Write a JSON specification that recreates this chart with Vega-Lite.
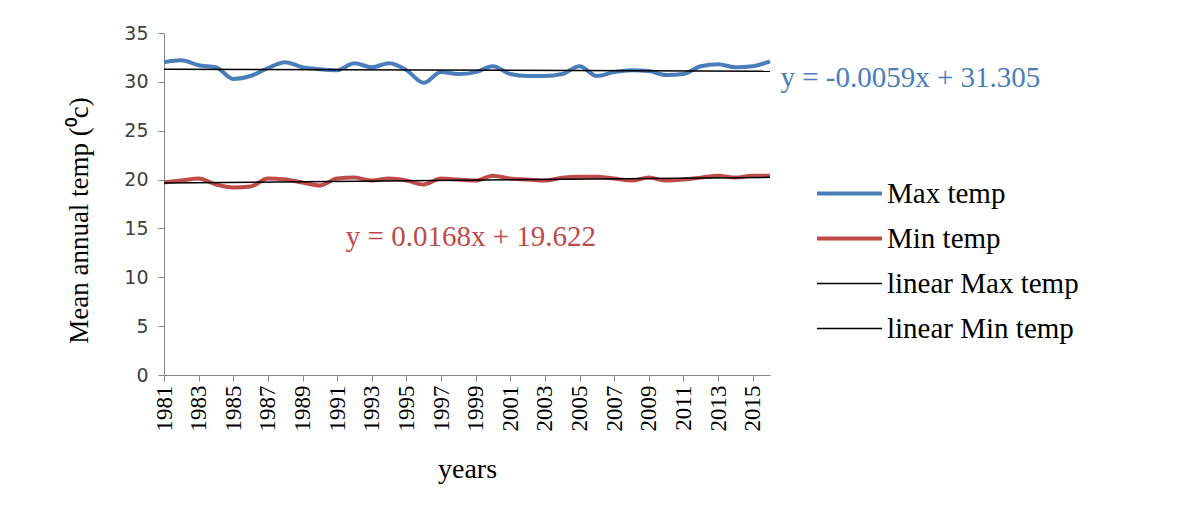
{
  "$schema": "https://vega.github.io/schema/vega-lite/v6.json",
  "width": 606,
  "height": 342,
  "autosize": {"type": "none"},
  "padding": {"left": 164, "top": 33, "right": 407, "bottom": 139},
  "background": "white",
  "config": {
    "view": {"stroke": null},
    "axis": {"grid": false, "domainColor": "#868686", "tickColor": "#868686", "labelColor": "#404040", "titleColor": "#000000", "titleFontWeight": "normal"},
    "legend": {"labelFont": "Liberation Serif", "labelFontSize": 29, "labelColor": "#000000", "labelLimit": 400}
  },
  "datasets": {
    "temps": [
      {"year": 1981, "series": "Max temp", "temp": 32.0},
      {"year": 1982, "series": "Max temp", "temp": 32.2},
      {"year": 1983, "series": "Max temp", "temp": 31.7},
      {"year": 1984, "series": "Max temp", "temp": 31.5},
      {"year": 1985, "series": "Max temp", "temp": 30.3},
      {"year": 1986, "series": "Max temp", "temp": 30.6},
      {"year": 1987, "series": "Max temp", "temp": 31.4},
      {"year": 1988, "series": "Max temp", "temp": 32.0},
      {"year": 1989, "series": "Max temp", "temp": 31.5},
      {"year": 1990, "series": "Max temp", "temp": 31.3},
      {"year": 1991, "series": "Max temp", "temp": 31.2},
      {"year": 1992, "series": "Max temp", "temp": 31.9},
      {"year": 1993, "series": "Max temp", "temp": 31.5},
      {"year": 1994, "series": "Max temp", "temp": 31.9},
      {"year": 1995, "series": "Max temp", "temp": 31.2},
      {"year": 1996, "series": "Max temp", "temp": 29.9},
      {"year": 1997, "series": "Max temp", "temp": 31.0},
      {"year": 1998, "series": "Max temp", "temp": 30.8},
      {"year": 1999, "series": "Max temp", "temp": 31.0},
      {"year": 2000, "series": "Max temp", "temp": 31.6},
      {"year": 2001, "series": "Max temp", "temp": 30.8},
      {"year": 2002, "series": "Max temp", "temp": 30.6},
      {"year": 2003, "series": "Max temp", "temp": 30.6},
      {"year": 2004, "series": "Max temp", "temp": 30.8},
      {"year": 2005, "series": "Max temp", "temp": 31.6},
      {"year": 2006, "series": "Max temp", "temp": 30.6},
      {"year": 2007, "series": "Max temp", "temp": 31.0},
      {"year": 2008, "series": "Max temp", "temp": 31.2},
      {"year": 2009, "series": "Max temp", "temp": 31.1},
      {"year": 2010, "series": "Max temp", "temp": 30.7},
      {"year": 2011, "series": "Max temp", "temp": 30.8},
      {"year": 2012, "series": "Max temp", "temp": 31.6},
      {"year": 2013, "series": "Max temp", "temp": 31.8},
      {"year": 2014, "series": "Max temp", "temp": 31.5},
      {"year": 2015, "series": "Max temp", "temp": 31.6},
      {"year": 2016, "series": "Max temp", "temp": 32.1},
      {"year": 1981, "series": "Min temp", "temp": 19.7},
      {"year": 1982, "series": "Min temp", "temp": 19.9},
      {"year": 1983, "series": "Min temp", "temp": 20.1},
      {"year": 1984, "series": "Min temp", "temp": 19.5},
      {"year": 1985, "series": "Min temp", "temp": 19.2},
      {"year": 1986, "series": "Min temp", "temp": 19.3},
      {"year": 1987, "series": "Min temp", "temp": 20.1},
      {"year": 1988, "series": "Min temp", "temp": 20.0},
      {"year": 1989, "series": "Min temp", "temp": 19.7},
      {"year": 1990, "series": "Min temp", "temp": 19.4},
      {"year": 1991, "series": "Min temp", "temp": 20.1},
      {"year": 1992, "series": "Min temp", "temp": 20.2},
      {"year": 1993, "series": "Min temp", "temp": 19.9},
      {"year": 1994, "series": "Min temp", "temp": 20.1},
      {"year": 1995, "series": "Min temp", "temp": 19.9},
      {"year": 1996, "series": "Min temp", "temp": 19.5},
      {"year": 1997, "series": "Min temp", "temp": 20.1},
      {"year": 1998, "series": "Min temp", "temp": 20.0},
      {"year": 1999, "series": "Min temp", "temp": 19.9},
      {"year": 2000, "series": "Min temp", "temp": 20.4},
      {"year": 2001, "series": "Min temp", "temp": 20.1},
      {"year": 2002, "series": "Min temp", "temp": 20.0},
      {"year": 2003, "series": "Min temp", "temp": 19.9},
      {"year": 2004, "series": "Min temp", "temp": 20.2},
      {"year": 2005, "series": "Min temp", "temp": 20.3},
      {"year": 2006, "series": "Min temp", "temp": 20.3},
      {"year": 2007, "series": "Min temp", "temp": 20.1},
      {"year": 2008, "series": "Min temp", "temp": 19.9},
      {"year": 2009, "series": "Min temp", "temp": 20.2},
      {"year": 2010, "series": "Min temp", "temp": 19.9},
      {"year": 2011, "series": "Min temp", "temp": 20.0},
      {"year": 2012, "series": "Min temp", "temp": 20.2},
      {"year": 2013, "series": "Min temp", "temp": 20.4},
      {"year": 2014, "series": "Min temp", "temp": 20.2},
      {"year": 2015, "series": "Min temp", "temp": 20.4},
      {"year": 2016, "series": "Min temp", "temp": 20.4},
      {"year": 1981, "series": "linear Max temp", "temp": 31.299},
      {"year": 2016, "series": "linear Max temp", "temp": 31.093},
      {"year": 1981, "series": "linear Min temp", "temp": 19.639},
      {"year": 2016, "series": "linear Min temp", "temp": 20.227}
    ],
    "maxNote": [{"year": 2016.6, "temp": 30.4, "label": "y = -0.0059x + 31.305"}],
    "minNote": [{"year": 1991.5, "temp": 14.1, "label": "y = 0.0168x + 19.622"}]
  },
  "layer": [
    {
      "data": {"name": "temps"},
      "mark": {"type": "line", "interpolate": "monotone"},
      "encoding": {
        "x": {
          "field": "year", "type": "quantitative",
          "scale": {"domain": [1981, 2016], "nice": false, "zero": false},
          "axis": {
            "values": [1981, 1983, 1985, 1987, 1989, 1991, 1993, 1995, 1997, 1999, 2001, 2003, 2005, 2007, 2009, 2011, 2013, 2015],
            "tickCount": 40,
            "format": "d", "labelAngle": -90, "labelFont": "Liberation Serif", "labelFontSize": 23,
            "labelColor": "#000000", "tickSize": 6, "labelPadding": 4, "labelOverlap": false,
            "title": "years", "titleFont": "Liberation Serif", "titleFontSize": 28, "titlePadding": 24
          }
        },
        "y": {
          "field": "temp", "type": "quantitative",
          "scale": {"domain": [0, 35], "nice": false},
          "axis": {
            "values": [0, 5, 10, 15, 20, 25, 30, 35],
            "labelFont": "DejaVu Sans", "labelFontSize": 19, "labelColor": "#404040",
            "tickSize": 6, "labelPadding": 10,
            "title": "Mean annual  temp (⁰c)", "titleFont": "Liberation Serif", "titleFontSize": 27, "titlePadding": 30, "titleY": 187
          }
        },
        "color": {
          "field": "series", "type": "nominal",
          "scale": {"domain": ["Max temp", "Min temp", "linear Max temp", "linear Min temp"], "range": ["#4a7ebb", "#be4b48", "#000000", "#000000"]},
          "legend": {
            "title": null, "orient": "none", "legendX": 651, "legendY": 138,
            "symbolType": "stroke", "symbolSize": 4225, "rowPadding": 0, "clipHeight": 45, "labelOffset": 3
          }
        },
        "strokeWidth": {
          "field": "series", "type": "nominal",
          "scale": {"type": "ordinal", "domain": ["Max temp", "Min temp", "linear Max temp", "linear Min temp"], "range": [4, 4, 1.5, 1.5]},
          "legend": {
            "title": null, "orient": "none", "legendX": 651, "legendY": 138,
            "symbolType": "stroke", "symbolSize": 4225, "rowPadding": 0, "clipHeight": 45, "labelOffset": 3
          }
        },
        "order": {"field": "year", "type": "quantitative"}
      }
    },
    {
      "data": {"name": "maxNote"},
      "mark": {"type": "text", "align": "left", "baseline": "middle", "font": "Liberation Serif", "fontSize": 29, "color": "#4a7ebb", "clip": false},
      "encoding": {
        "x": {"field": "year", "type": "quantitative"},
        "y": {"field": "temp", "type": "quantitative"},
        "text": {"field": "label"}
      }
    },
    {
      "data": {"name": "minNote"},
      "mark": {"type": "text", "align": "left", "baseline": "middle", "font": "Liberation Serif", "fontSize": 29, "color": "#be4b48", "clip": false},
      "encoding": {
        "x": {"field": "year", "type": "quantitative"},
        "y": {"field": "temp", "type": "quantitative"},
        "text": {"field": "label"}
      }
    }
  ]
}
